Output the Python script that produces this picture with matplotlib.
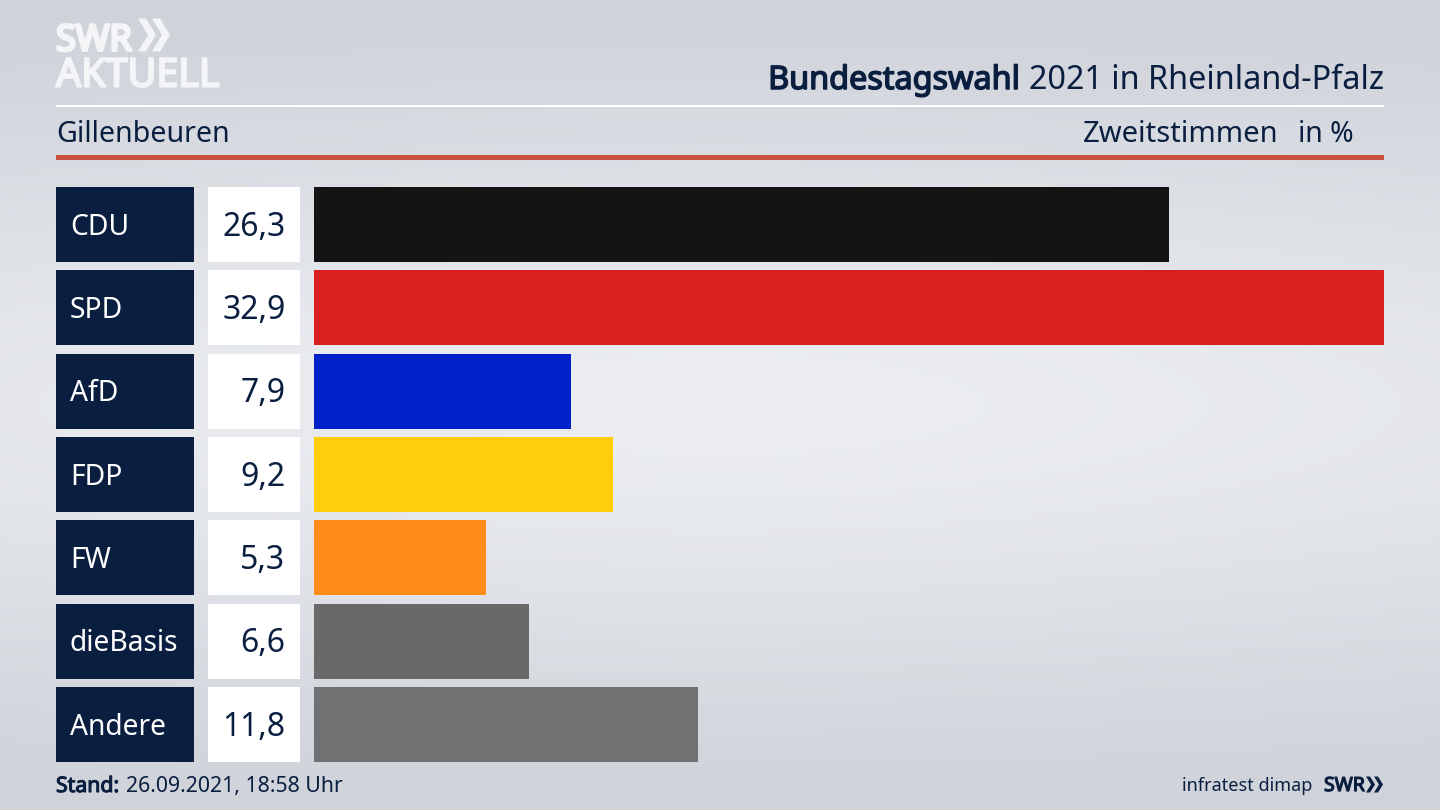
import numpy as np
import matplotlib
matplotlib.use("Agg")
import matplotlib.pyplot as plt
import matplotlib.patheffects as pe
from matplotlib.patches import Polygon, Rectangle

parties = ["CDU", "SPD", "AfD", "FDP", "FW", "dieBasis", "Andere"]
values = [26.3, 32.9, 7.9, 9.2, 5.3, 6.6, 11.8]
value_labels = ["26,3", "32,9", "7,9", "9,2", "5,3", "6,6", "11,8"]
colors = ["#141414", "#d9201f", "#0021c7", "#ffcd0a", "#ff8c17", "#696969", "#707173"]

NAVY = "#0a1f40"
LOGO = "#f4f5f7"
W, H = 1440, 810
plt.rcParams["font.family"] = ["Noto Sans", "DejaVu Sans"]
fig = plt.figure(figsize=(14.4, 8.1), dpi=100)

def axes_px(x0, y0, x1, y1, **kw):
    return fig.add_axes([x0 / W, 1 - y1 / H, (x1 - x0) / W, (y1 - y0) / H], **kw)

def heavy(col, lw):
    return [pe.withStroke(linewidth=lw, foreground=col)]

# background + header drawn in pixel space
bg = axes_px(0, 0, W, H)
bg.set_xlim(0, W); bg.set_ylim(H, 0); bg.axis("off")
yy = np.linspace(0, 1, 200)[:, None]
xx = np.linspace(0, 1, 300)[None, :]
v = np.exp(-((yy - 0.5) / 0.36) ** 2) * (0.62 + 0.38 * np.exp(-((xx - 0.5) / 0.62) ** 2))
c0 = np.array([0xcb, 0xcf, 0xd6]) / 255
c1 = np.array([0xeb, 0xed, 0xf1]) / 255
bg.imshow(c0 + (c1 - c0) * v[..., None], extent=(0, W, H, 0), aspect="auto", zorder=0)

bg.add_patch(Rectangle((56, 104.5), 1328, 2.8, color="white", lw=0, zorder=1))
bg.add_patch(Rectangle((56, 155), 1328, 5, color="#c9503c", lw=0, zorder=1))

# logo
bg.text(56, 50.5, "SWR", color=LOGO, fontsize=26, ha="left", va="baseline", zorder=2,
        path_effects=heavy(LOGO, 2.2))
bg.text(56, 86.5, "AKTUELL", color=LOGO, fontsize=28.4, ha="left", va="baseline", zorder=2,
        path_effects=heavy(LOGO, 1.6))

def chevrons(x, top, bot, w, t, gap, col):
    mid = (top + bot) / 2
    for k in range(2):
        o = x + k * gap
        bg.add_patch(Polygon([(o, top), (o + t, top), (o + t + w, mid), (o + t, bot), (o, bot), (o + w, mid)],
                             closed=True, color=col, lw=0, zorder=2))
chevrons(138, 18.5, 51.5, 10, 8, 14, LOGO)
chevrons(1366, 776.5, 792.5, 5, 4, 8, NAVY)

# header text
bg.text(1384, 89, "2021 in Rheinland-Pfalz", color=NAVY, fontsize=23.3, ha="right", va="baseline", zorder=2)
bg.text(1020, 89, "Bundestagswahl", color=NAVY, fontsize=23.3, ha="right", va="baseline", zorder=2,
        path_effects=heavy(NAVY, 1.1))
bg.text(56, 142, "Gillenbeuren", color=NAVY, fontsize=20.6, ha="left", va="baseline", zorder=2)
bg.text(1083, 142, "Zweitstimmen", color=NAVY, fontsize=21, ha="left", va="baseline", zorder=2)
bg.text(1354, 142, "in %", color=NAVY, fontsize=20.4, ha="right", va="baseline", zorder=2)

# footer
bg.text(56, 792, "Stand:", color=NAVY, fontsize=15.3, ha="left", va="baseline", zorder=2,
        path_effects=heavy(NAVY, 0.8))
bg.text(126, 792, "26.09.2021, 18:58 Uhr", color=NAVY, fontsize=15.3, ha="left", va="baseline", zorder=2)
bg.text(1312, 791, "infratest dimap", color=NAVY, fontsize=13, ha="right", va="baseline", zorder=2)
bg.text(1324, 791, "SWR", color=NAVY, fontsize=14, ha="left", va="baseline", zorder=2,
        path_effects=heavy(NAVY, 0.9))

# rows
y = np.arange(len(parties))
BAR_H = 0.9
ylim = (len(parties) - 0.55, -0.45)

def row_axes(x0, x1, xlim):
    a = axes_px(x0, 187, x1, 762)
    a.set_xlim(*xlim); a.set_ylim(*ylim)
    a.axis("off"); a.patch.set_alpha(0)
    return a

axL = row_axes(56, 193.5, (0, 1))
axL.barh(y, [1] * len(y), height=BAR_H, color=NAVY, lw=0)
axV = row_axes(208, 300, (0, 1))
axV.barh(y, [1] * len(y), height=BAR_H, color="white", lw=0)
axB = row_axes(314, 1384, (0, max(values)))
axB.barh(y, values, height=BAR_H, color=colors, lw=0)

for i, (p, s) in enumerate(zip(parties, value_labels)):
    axL.annotate(p, (0, i), xytext=(10.0, -2), textcoords="offset points", color="white", fontsize=20.3,
                 va="center", ha="left")
    axV.annotate(s, (1, i), xytext=(-10.4, -2), textcoords="offset points", color=NAVY, fontsize=23,
                 va="center", ha="right")

fig.savefig("out.png", dpi=100)
